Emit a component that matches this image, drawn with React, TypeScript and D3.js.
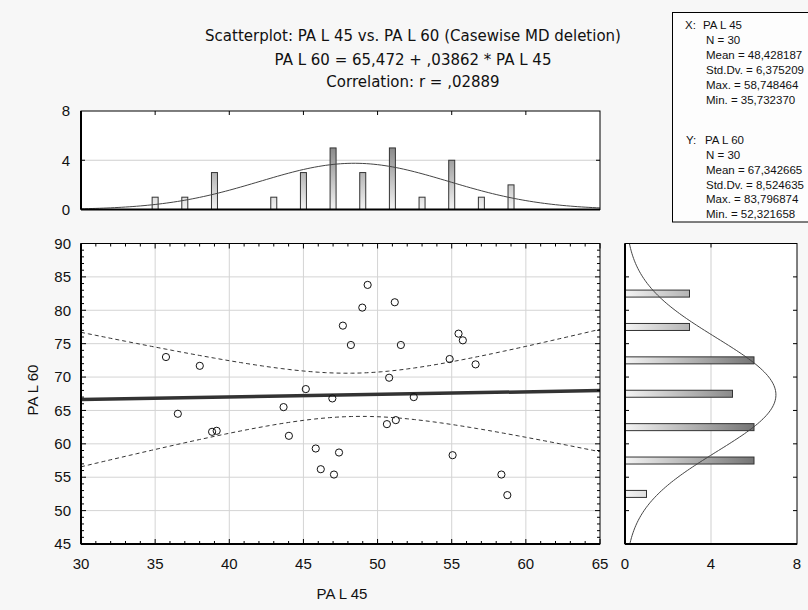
import React from 'react';
import * as d3 from 'd3';

// ---------- data ----------
const xName = 'PA L 45';
const yName = 'PA L 60';
const xValues = [35.73, 38.01, 36.53, 38.84, 39.15, 43.66, 44.02, 45.16, 45.83, 46.17, 46.95, 47.06, 47.40, 47.66, 48.20, 49.33, 48.97, 51.16, 51.57, 50.78, 52.44, 50.63, 51.23, 55.46, 55.75, 54.86, 56.61, 55.06, 58.35, 58.75];
const yValues = [73.0, 71.68, 64.5, 61.8, 61.95, 65.5, 61.2, 68.2, 59.3, 56.2, 66.8, 55.4, 58.7, 77.7, 74.8, 83.8, 80.4, 81.2, 74.8, 69.9, 67.0, 62.95, 63.55, 76.5, 75.5, 72.7, 71.9, 58.3, 55.4, 52.32];

const xBinCenters = [35, 37, 39, 41, 43, 45, 47, 49, 51, 53, 55, 57, 59];
const xBinCounts = [1, 1, 3, 0, 1, 3, 5, 3, 5, 1, 4, 1, 2];
const xBinWidth = 2;
const yBinCenters = [52.5, 57.5, 62.5, 67.5, 72.5, 77.5, 82.5];
const yBinCounts = [1, 6, 6, 5, 6, 3, 3];
const yBinWidth = 5;

const xTicks = [30, 35, 40, 45, 50, 55, 60, 65];
const yTicks = [45, 50, 55, 60, 65, 70, 75, 80, 85, 90];
const histTicks = [0, 4, 8];

const nCases = 30;
const xMean = 48.428187, xSD = 6.375209, xMax = 58.748464, xMin = 35.73237;
const yMean = 67.342665, ySD = 8.524635, yMax = 83.796874, yMin = 52.321658;
const intercept = 65.472, slope = 0.03862, corr = 0.02889;
const tCrit = 2.048;

const titleLines = [
  'Scatterplot: PA L 45 vs. PA L 60 (Casewise MD deletion)',
  'PA L 60 = 65,472 + ,03862 * PA L 45',
  'Correlation: r =  ,02889',
];

const fmt6 = (v: number) => v.toFixed(6).replace('.', ',');
const statsX = ['N = ' + nCases, 'Mean = ' + fmt6(xMean), 'Std.Dv. = ' + fmt6(xSD), 'Max. = ' + fmt6(xMax), 'Min. = ' + fmt6(xMin)];
const statsY = ['N = ' + nCases, 'Mean = ' + fmt6(yMean), 'Std.Dv. = ' + fmt6(ySD), 'Max. = ' + fmt6(yMax), 'Min. = ' + fmt6(yMin)];

// ---------- layout ----------
const W = 808, H = 610;
const M = { l: 81, r: 600, t: 243.5, b: 544 };
const TH = { t: 111, b: 209.5 };
const RH = { l: 625, r: 797 };
const FONT = '"Liberation Sans", Arial, sans-serif';
const TFONT = '"DejaVu Sans", sans-serif';

const pdf = (v: number, m: number, s: number) => Math.exp(-0.5 * ((v - m) / s) ** 2) / (s * Math.sqrt(2 * Math.PI));

export default function App() {
  const x = d3.scaleLinear().domain([30, 65]).range([M.l, M.r]);
  const y = d3.scaleLinear().domain([45, 90]).range([M.b, M.t]);
  const hy = d3.scaleLinear().domain([0, 8]).range([TH.b, TH.t]);
  const hx = d3.scaleLinear().domain([0, 8]).range([RH.l, RH.r]);

  const xs = d3.range(30, 65.001, 0.25);
  const ys = d3.range(45, 90.001, 0.25);
  const topCurve = d3.line<number>().x((v) => x(v)).y((v) => hy(nCases * xBinWidth * pdf(v, xMean, xSD)))(xs) || '';
  const rightCurve = d3.line<number>().x((v) => hx(nCases * yBinWidth * pdf(v, yMean, ySD))).y((v) => y(v))(ys) || '';

  const se = ySD * Math.sqrt(1 - corr * corr) * Math.sqrt((nCases - 1) / (nCases - 2));
  const sxx = (nCases - 1) * xSD * xSD;
  const band = (v: number) => tCrit * se * Math.sqrt(1 / nCases + (v - xMean) ** 2 / sxx);
  const upper = d3.line<number>().x((v) => x(v)).y((v) => y(intercept + slope * v + band(v)))(xs) || '';
  const lower = d3.line<number>().x((v) => x(v)).y((v) => y(intercept + slope * v - band(v)))(xs) || '';

  const minorX = d3.range(30, 65.001, 1);
  const minorY = d3.range(45, 90.001, 1);
  const gridX = xTicks.slice(1, -1);
  const gridY = yTicks.slice(1, -1);

  const tickCol = '#000';
  return (
    <div style={{ position: 'fixed', left: 0, top: 0 }}>
      <svg width={W} height={H} style={{ display: 'block', fontFamily: FONT }}>
        <defs>
          <linearGradient id="gv" gradientUnits="userSpaceOnUse" x1="0" y1={hy(0)} x2="0" y2={hy(8)}>
            <stop offset="0" stopColor="#f4f4f4" />
            <stop offset="1" stopColor="#4a4a4a" />
          </linearGradient>
          <linearGradient id="gh" gradientUnits="userSpaceOnUse" x1={hx(0)} y1="0" x2={hx(8)} y2="0">
            <stop offset="0" stopColor="#f4f4f4" />
            <stop offset="1" stopColor="#4a4a4a" />
          </linearGradient>
          <clipPath id="cm"><rect x={M.l} y={M.t} width={M.r - M.l} height={M.b - M.t} /></clipPath>
          <clipPath id="ct"><rect x={M.l} y={TH.t} width={M.r - M.l} height={TH.b - TH.t} /></clipPath>
          <clipPath id="cr"><rect x={RH.l} y={M.t} width={RH.r - RH.l} height={M.b - M.t} /></clipPath>
        </defs>
        <rect x={0} y={0} width={W} height={H} fill="#f7f7f7" />

        {/* titles */}
        {titleLines.map((t, i) => (
          <text key={i} x={413} y={[36, 59.5, 82][i]} dy="0.35em" textAnchor="middle" fontSize={15} fontFamily={TFONT} fill="#111">{t}</text>
        ))}

        {/* stats box */}
        <rect x={672.5} y={12.5} width={160} height={209.5} fill="#fdfdfd" stroke="#000" strokeWidth={1} />
        <text x={685} y={25} dy="0.35em" fontSize={11.5} fill="#111">X:</text>
        <text x={703} y={25} dy="0.35em" fontSize={11.5} fill="#111">{xName}</text>
        {statsX.map((s, i) => (
          <text key={'sx' + i} x={706} y={40 + i * 15} dy="0.35em" fontSize={11.5} fill="#111">{s}</text>
        ))}
        <text x={686} y={140} dy="0.35em" fontSize={11.5} fill="#111">Y:</text>
        <text x={705} y={140} dy="0.35em" fontSize={11.5} fill="#111">{yName}</text>
        {statsY.map((s, i) => (
          <text key={'sy' + i} x={706} y={155 + i * 14.8} dy="0.35em" fontSize={11.5} fill="#111">{s}</text>
        ))}

        {/* ---------- top histogram ---------- */}
        <rect x={M.l} y={TH.t} width={M.r - M.l} height={TH.b - TH.t} fill="#fff" />
        <line x1={M.l} x2={M.r} y1={hy(4)} y2={hy(4)} stroke="#cfcfcf" />
        <g clipPath="url(#ct)">
          {xBinCenters.map((c, i) => xBinCounts[i] > 0 && (
            <rect key={i} x={x(c) - 3} y={hy(xBinCounts[i])} width={6} height={hy(0) - hy(xBinCounts[i])} fill="url(#gv)" stroke="#333" strokeWidth={1} />
          ))}
          <path d={topCurve} fill="none" stroke="#444" strokeWidth={1} />
        </g>
        {gridX.map((t) => (
          <line key={'tt' + t} x1={x(t)} x2={x(t)} y1={TH.t} y2={TH.t + 4} stroke={tickCol} />
        ))}
        <line x1={M.l} x2={M.l + 4} y1={hy(4)} y2={hy(4)} stroke={tickCol} />
        <line x1={M.r} x2={M.r - 4} y1={hy(4)} y2={hy(4)} stroke={tickCol} />
        <rect x={M.l} y={TH.t} width={M.r - M.l} height={TH.b - TH.t} fill="none" stroke="#000" strokeWidth={1} />
        <line x1={M.l} x2={M.l} y1={TH.t} y2={TH.b} stroke="#000" strokeWidth={2} />
        <line x1={M.l} x2={M.r} y1={TH.b} y2={TH.b} stroke="#000" strokeWidth={2} />
        {histTicks.map((t) => (
          <text key={'hl' + t} x={70} y={hy(t)} dy="0.35em" textAnchor="end" fontSize={15} fill="#111">{t}</text>
        ))}

        {/* ---------- main scatter ---------- */}
        <rect x={M.l} y={M.t} width={M.r - M.l} height={M.b - M.t} fill="#fff" />
        {gridX.map((t) => (
          <line key={'gx' + t} x1={x(t)} x2={x(t)} y1={M.t} y2={M.b} stroke="#d4d4d4" />
        ))}
        {gridY.map((t) => (
          <line key={'gy' + t} x1={M.l} x2={M.r} y1={y(t)} y2={y(t)} stroke="#d4d4d4" />
        ))}
        <g clipPath="url(#cm)">
          <path d={upper} fill="none" stroke="#333" strokeWidth={1} strokeDasharray="4,3" />
          <path d={lower} fill="none" stroke="#333" strokeWidth={1} strokeDasharray="4,3" />
          <line x1={x(30)} x2={x(65)} y1={y(intercept + slope * 30)} y2={y(intercept + slope * 65)} stroke="#333" strokeWidth={3.5} />
          {xValues.map((v, i) => (
            <circle key={i} cx={x(v)} cy={y(yValues[i])} r={3.6} fill="none" stroke="#111" strokeWidth={1} />
          ))}
        </g>
        {minorX.map((t) => {
          const L = t % 5 === 0 ? 5 : 3;
          return (
            <g key={'mx' + t}>
              <line x1={x(t)} x2={x(t)} y1={M.b} y2={M.b - L} stroke={tickCol} />
              <line x1={x(t)} x2={x(t)} y1={M.t} y2={M.t + L} stroke={tickCol} />
            </g>
          );
        })}
        {minorY.map((t) => {
          const L = t % 5 === 0 ? 5 : 3;
          return (
            <g key={'my' + t}>
              <line x1={M.l} x2={M.l + L} y1={y(t)} y2={y(t)} stroke={tickCol} />
              <line x1={M.r} x2={M.r - L} y1={y(t)} y2={y(t)} stroke={tickCol} />
            </g>
          );
        })}
        <rect x={M.l} y={M.t} width={M.r - M.l} height={M.b - M.t} fill="none" stroke="#000" strokeWidth={1} />
        <line x1={M.l} x2={M.l} y1={M.t} y2={M.b} stroke="#000" strokeWidth={2} />
        <line x1={M.l} x2={M.r} y1={M.b} y2={M.b} stroke="#000" strokeWidth={2} />
        {xTicks.map((t) => (
          <text key={'xl' + t} x={x(t)} y={564} dy="0.35em" textAnchor="middle" fontSize={15} fill="#111">{t}</text>
        ))}
        {yTicks.map((t) => (
          <text key={'yl' + t} x={71} y={y(t)} dy="0.35em" textAnchor="end" fontSize={15} fill="#111">{t}</text>
        ))}
        <text x={342} y={594} dy="0.35em" textAnchor="middle" fontSize={15} fill="#111">{xName}</text>
        <text transform="translate(33,390) rotate(-90)" dy="0.35em" textAnchor="middle" fontSize={15} fill="#111">{yName}</text>

        {/* ---------- right histogram ---------- */}
        <rect x={RH.l} y={M.t} width={RH.r - RH.l} height={M.b - M.t} fill="#fff" />
        <line x1={hx(4)} x2={hx(4)} y1={M.t} y2={M.b} stroke="#cfcfcf" />
        <g clipPath="url(#cr)">
          {yBinCenters.map((c, i) => (
            <rect key={i} x={hx(0)} y={y(c) - 3.5} width={hx(yBinCounts[i]) - hx(0)} height={7} fill="url(#gh)" stroke="#333" strokeWidth={1} />
          ))}
          <path d={rightCurve} fill="none" stroke="#444" strokeWidth={1} />
        </g>
        {gridY.map((t) => (
          <g key={'rt' + t}>
            <line x1={RH.l} x2={RH.l + 4} y1={y(t)} y2={y(t)} stroke={tickCol} />
            <line x1={RH.r} x2={RH.r - 4} y1={y(t)} y2={y(t)} stroke={tickCol} />
          </g>
        ))}
        <line x1={hx(4)} x2={hx(4)} y1={M.t} y2={M.t + 4} stroke={tickCol} />
        <rect x={RH.l} y={M.t} width={RH.r - RH.l} height={M.b - M.t} fill="none" stroke="#000" strokeWidth={1} />
        <line x1={RH.l} x2={RH.l} y1={M.t} y2={M.b} stroke="#000" strokeWidth={2} />
        <line x1={RH.l} x2={RH.r} y1={M.b} y2={M.b} stroke="#000" strokeWidth={2} />
        {histTicks.map((t) => (
          <text key={'rl' + t} x={hx(t)} y={564} dy="0.35em" textAnchor="middle" fontSize={15} fill="#111">{t}</text>
        ))}
      </svg>
    </div>
  );
}
